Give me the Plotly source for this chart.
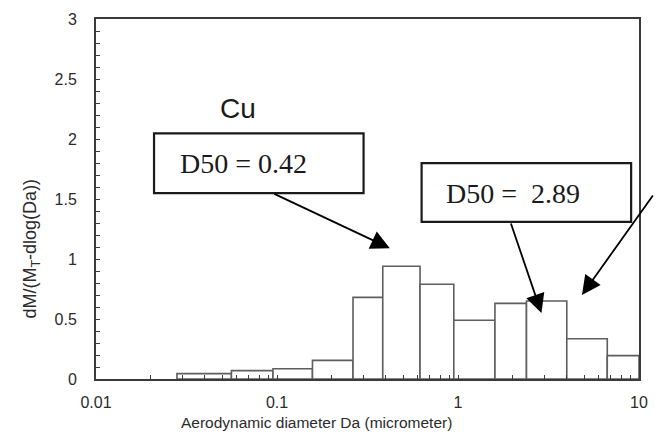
import numpy as np
import plotly.graph_objects as go

# Impactor stage boundaries (micrometer) and normalised mass distribution for Cu
stage_edges = [0.028, 0.056, 0.095, 0.157, 0.263, 0.384, 0.617, 0.948, 1.60, 2.39, 3.99, 6.68, 10.0]
dm_dlogda = [0.045, 0.07, 0.085, 0.155, 0.68, 0.94, 0.79, 0.49, 0.63, 0.65, 0.335, 0.195]

d50_fine = 0.42
d50_coarse = 2.89

x_major = [0.01, 0.1, 1, 10]
x_major_text = ["0.01", "0.1", "1", "10"]
y_ticks = [0, 0.5, 1, 1.5, 2, 2.5, 3]
y_tick_text = ["0", "0.5", "1", "1.5", "2", "2.5", "3"]

AXIS = "#3a3a3a"
BAR = "#5e5e5e"
TEXT = "#2b2b2b"
SANS = "Liberation Sans, Arial, sans-serif"
SERIF = "Liberation Serif, Times New Roman, serif"

fig = go.Figure()

# each stage as an outlined rectangle in data coordinates
for lo, hi, v in zip(stage_edges[:-1], stage_edges[1:], dm_dlogda):
    fig.add_trace(go.Scatter(
        x=[lo, lo, hi, hi, lo], y=[0, v, v, 0, 0],
        mode="lines", fill="toself", fillcolor="white",
        line=dict(color=BAR, width=1.6), hoverinfo="skip", showlegend=False,
    ))

# log x axis: minor positions as unlabeled ticks
x_tickvals, x_ticktext = [], []
for dec in [0.01, 0.1, 1]:
    for m in range(1, 10):
        x_tickvals.append(dec * m)
        x_ticktext.append(x_major_text[x_major.index(dec)] if m == 1 else "")
x_tickvals.append(10)
x_ticktext.append("10")

fig.update_xaxes(
    type="log", range=[-2, 1],
    tickvals=x_tickvals, ticktext=x_ticktext,
    ticks="inside", ticklen=4, tickwidth=1.3, tickcolor=AXIS,
    showline=True, linecolor=AXIS, linewidth=2, mirror=True,
    showgrid=False, zeroline=False,
    tickfont=dict(family=SANS, size=16, color=TEXT),
    ticklabelstandoff=8,
)
fig.update_yaxes(
    range=[0, 3],
    tickvals=y_ticks, ticktext=y_tick_text,
    ticks="inside", ticklen=4, tickwidth=1.3, tickcolor=AXIS,
    minor=dict(dtick=0.1, ticks="inside", ticklen=4, tickwidth=1.3, tickcolor=AXIS),
    showline=True, linecolor=AXIS, linewidth=2, mirror=True,
    showgrid=False, zeroline=False,
    tickfont=dict(family=SANS, size=16, color=TEXT),
    ticklabelstandoff=14,
)

annotations = [
    dict(text="Aerodynamic diameter Da (micrometer)", xref="paper", yref="paper",
         x=0.406, y=-0.1215, xanchor="center", yanchor="middle", showarrow=False,
         font=dict(family=SANS, size=15.5, color=TEXT)),
    dict(text="dM/(M<sub>T</sub>-dlog(Da))", xref="paper", yref="paper",
         x=-0.118, y=0.362, xanchor="center", yanchor="middle", textangle=-90,
         showarrow=False, font=dict(family=SANS, size=18, color=TEXT)),
    dict(text="Cu", xref="paper", yref="paper", x=(240 - 96) / 552, y=(379 - 107) / 362,
         xanchor="center", yanchor="middle", showarrow=False,
         font=dict(family=SANS, size=28, color="#1a1a1a")),
    dict(text="D50 = 0.42", xref="paper", yref="paper", x=(179 - 96) / 552, y=(379 - 162) / 362,
         xanchor="left", yanchor="middle", showarrow=False,
         font=dict(family=SERIF, size=28, color="#1a1a1a")),
    dict(text="D50 =  2.89", xref="paper", yref="paper", x=(450 - 96) / 552, y=(379 - 192) / 362,
         xanchor="left", yanchor="middle", showarrow=False,
         font=dict(family=SERIF, size=28, color="#1a1a1a")),
]

# arrows pointing at the D50 positions
arrow_style = dict(text="", showarrow=True, arrowhead=2, arrowsize=2.1, arrowwidth=1.8,
                   arrowcolor="black", standoff=0, startstandoff=0, xref="x", yref="y")
annotations += [
    dict(x=np.log10(d50_fine), y=1.09, ax=-117, ay=-55, **arrow_style),
    dict(x=np.log10(d50_coarse), y=0.55, ax=-31, ay=-91, **arrow_style),
    dict(x=np.log10(4.84), y=0.70, ax=72, ay=-101, **arrow_style),
]

def px_rect(x0, y0, x1, y1):
    return dict(type="rect", xref="paper", yref="paper",
                x0=(x0 - 96) / 552, x1=(x1 - 96) / 552,
                y0=(379 - y1) / 362, y1=(379 - y0) / 362,
                line=dict(color="#1a1a1a", width=2.2), fillcolor="white", layer="below")

fig.update_layout(
    width=659, height=438,
    margin=dict(l=96, r=11, t=17, b=59),
    paper_bgcolor="white", plot_bgcolor="white",
    annotations=annotations,
    shapes=[px_rect(155, 132, 368, 192), px_rect(427, 162, 640, 221)],
)

fig.write_html("out.html")
